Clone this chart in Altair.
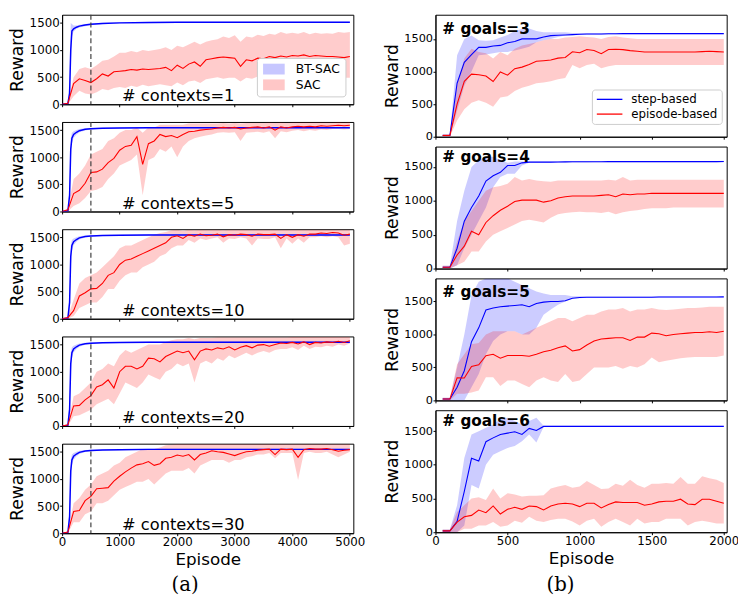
import altair as alt
import pandas as pd

FONT = "DejaVu Sans"
BLUE = "#0000ff"
RED = "#ff0000"

# ------------------------------------------------------------------ (a)
ctx_labels = ["# contexts=1", "# contexts=5", "# contexts=10", "# contexts=20", "# contexts=30"]
sac_ep = list(range(0, 5001, 100))
bt_ep = [0, 100, 130, 150, 170, 200, 250, 300, 400, 500, 700, 1000, 1500, 2000, 3000, 4000, 5000]

bt_mean_1 = [0, 10, 200, 1000, 1350, 1390, 1420, 1440, 1460, 1475, 1490, 1500, 1505, 1510, 1510, 1510, 1510]
bt_lo_1 = [0, 0, 50, 700, 1250, 1340, 1390, 1415, 1440, 1460, 1478, 1490, 1495, 1500, 1500, 1500, 1500]
bt_hi_1 = [0, 20, 500, 1500, 1480, 1450, 1450, 1465, 1480, 1490, 1502, 1510, 1515, 1520, 1520, 1520, 1520]
bt_mean_n = [0, 10, 300, 1150, 1350, 1420, 1460, 1490, 1515, 1525, 1535, 1540, 1545, 1545, 1545, 1545, 1545]
bt_lo_n = [0, 0, 100, 950, 1250, 1360, 1420, 1460, 1495, 1510, 1525, 1530, 1535, 1535, 1535, 1535, 1535]
bt_hi_n = [0, 20, 500, 1350, 1450, 1480, 1500, 1520, 1535, 1540, 1545, 1550, 1555, 1555, 1555, 1555, 1555]

sac_mean_1 = [0, 20, 380, 470, 440, 400, 470, 560, 520, 600,
              610, 620, 640, 630, 650, 640, 650, 660, 680, 620,
              720, 660, 740, 780, 700, 820, 840, 860, 870, 860,
              850, 700, 820, 800, 850, 840, 880, 860, 890, 870,
              900, 890, 910, 880, 900, 890, 880, 880, 870, 860,
              880]
sac_lo_1 = [0, 0, 150, 250, 200, 180, 220, 280, 260, 300,
            320, 300, 340, 320, 360, 330, 350, 370, 350, 330,
            400, 350, 420, 440, 390, 460, 480, 500, 470, 490,
            490, 420, 490, 470, 510, 490, 510, 490, 530, 510,
            540, 510, 530, 520, 530, 510, 520, 510, 500, 490,
            490]
sac_hi_1 = [0, 30, 500, 650, 680, 650, 720, 800, 820, 880,
            950, 950, 980, 960, 1000, 980, 1000, 1020, 1050, 1000,
            1080, 1050, 1100, 1150, 1100, 1150, 1180, 1200, 1250, 1220,
            1270, 1150, 1250, 1230, 1280, 1260, 1300, 1280, 1330, 1300,
            1320, 1300, 1330, 1290, 1320, 1300, 1310, 1300, 1330, 1320,
            1330]

sac_mean_5 = [0, 30, 330, 390, 520, 720, 730, 780, 900, 980,
              1130, 1200, 1220, 1380, 870, 1250, 1300, 1420, 1380, 1400,
              1360, 1420, 1470, 1480, 1500, 1510, 1520, 1540, 1550, 1540,
              1550, 1520, 1540, 1550, 1560, 1540, 1560, 1500, 1560, 1540,
              1560, 1570, 1560, 1570, 1560, 1580, 1570, 1580, 1590, 1580,
              1590]
sac_lo_5 = [0, 0, 100, 150, 250, 380, 400, 450, 600, 700,
            850, 900, 950, 1050, 300, 950, 1000, 1150, 1100, 1200,
            1000, 1200, 1300, 1350, 1380, 1400, 1420, 1450, 1460, 1450,
            1460, 1300, 1450, 1460, 1470, 1450, 1480, 1350, 1480, 1460,
            1490, 1500, 1480, 1500, 1490, 1510, 1500, 1520, 1520, 1510,
            1520]
sac_hi_5 = [0, 60, 600, 700, 850, 1050, 1100, 1150, 1300, 1350,
            1450, 1500, 1500, 1550, 1450, 1550, 1550, 1600, 1600, 1600,
            1600, 1600, 1620, 1620, 1620, 1620, 1620, 1620, 1630, 1620,
            1630, 1620, 1630, 1630, 1630, 1630, 1640, 1630, 1640, 1630,
            1640, 1640, 1640, 1640, 1640, 1640, 1640, 1640, 1650, 1640,
            1650]

sac_mean_10 = [0, 20, 150, 420, 480, 550, 560, 650, 800, 850,
               1000, 1080, 1100, 1150, 1200, 1250, 1300, 1350, 1400, 1500,
               1530, 1480, 1550, 1520, 1560, 1530, 1540, 1560, 1510, 1550,
               1540, 1560, 1550, 1520, 1560, 1550, 1550, 1560, 1480, 1550,
               1500, 1550, 1520, 1560, 1560, 1580, 1570, 1590, 1580, 1540,
               1560]
sac_lo_10 = [0, 0, 50, 200, 250, 300, 300, 400, 550, 550,
             700, 800, 850, 850, 950, 1000, 1050, 1150, 1200, 1300,
             1350, 1350, 1450, 1400, 1480, 1450, 1480, 1500, 1400, 1480,
             1470, 1500, 1480, 1350, 1480, 1470, 1470, 1500, 1300, 1480,
             1380, 1480, 1400, 1500, 1500, 1520, 1500, 1520, 1500, 1350,
             1380]
sac_hi_10 = [0, 40, 350, 650, 750, 800, 850, 950, 1050, 1150,
             1300, 1350, 1350, 1400, 1450, 1500, 1550, 1580, 1600, 1630,
             1640, 1620, 1640, 1630, 1640, 1640, 1640, 1640, 1630, 1640,
             1640, 1640, 1640, 1640, 1640, 1640, 1640, 1640, 1640, 1640,
             1640, 1640, 1640, 1640, 1640, 1640, 1640, 1640, 1640, 1640,
             1640]

sac_mean_20 = [0, 20, 370, 380, 480, 560, 720, 760, 850, 700,
               1000, 1100, 1100, 1050, 1100, 1250, 1240, 1180, 1280, 1330,
               1380, 1350, 1380, 1220, 1380, 1420, 1400, 1440, 1420, 1460,
               1400, 1450, 1480, 1440, 1490, 1500, 1470, 1500, 1530, 1520,
               1540, 1510, 1550, 1500, 1540, 1530, 1550, 1540, 1560, 1540,
               1570]
sac_lo_20 = [0, 0, 180, 200, 250, 300, 400, 450, 500, 400,
             600, 800, 750, 700, 800, 950, 900, 850, 1000, 1050,
             1150, 1100, 1150, 800, 1150, 1200, 1150, 1250, 1200, 1300,
             1250, 1300, 1350, 1300, 1350, 1380, 1350, 1400, 1420, 1420,
             1450, 1400, 1480, 1420, 1460, 1450, 1480, 1460, 1500, 1480,
             1520]
sac_hi_20 = [0, 40, 550, 600, 700, 800, 1000, 1050, 1150, 1100,
             1300, 1400, 1350, 1400, 1450, 1500, 1500, 1500, 1550, 1580,
             1600, 1600, 1620, 1600, 1620, 1620, 1620, 1630, 1630, 1630,
             1630, 1630, 1630, 1630, 1630, 1630, 1630, 1630, 1630, 1630,
             1640, 1640, 1640, 1640, 1640, 1640, 1640, 1640, 1640, 1640,
             1640]

sac_mean_30 = [0, 20, 400, 420, 600, 680, 820, 830, 840, 960,
               1050, 1130, 1200, 1260, 1280, 1320, 1250, 1280, 1380, 1400,
               1440, 1420, 1450, 1350, 1450, 1480, 1520, 1500, 1490, 1460,
               1430, 1470, 1500, 1510, 1530, 1540, 1550, 1450, 1550, 1540,
               1550, 1400, 1540, 1560, 1550, 1550, 1560, 1540, 1510, 1530,
               1540]
sac_lo_30 = [0, 0, 200, 200, 350, 400, 550, 550, 600, 700,
             800, 850, 900, 950, 950, 1000, 900, 1000, 1100, 1150,
             1150, 1150, 1200, 1100, 1250, 1300, 1350, 1350, 1350, 1300,
             1350, 1350, 1400, 1420, 1450, 1450, 1480, 1380, 1480, 1480,
             1480, 980, 1480, 1500, 1480, 1480, 1500, 1450, 1400, 1450,
             1500]
sac_hi_30 = [0, 40, 550, 650, 800, 900, 1050, 1100, 1150, 1250,
             1300, 1400, 1450, 1500, 1550, 1550, 1550, 1580, 1620, 1630,
             1640, 1640, 1640, 1640, 1640, 1640, 1640, 1640, 1640, 1640,
             1640, 1640, 1640, 1640, 1640, 1640, 1640, 1640, 1640, 1640,
             1640, 1640, 1640, 1640, 1640, 1640, 1640, 1640, 1640, 1640,
             1640]

bt_mean = [bt_mean_1, bt_mean_n, bt_mean_n, bt_mean_n, bt_mean_n]
bt_lo = [bt_lo_1, bt_lo_n, bt_lo_n, bt_lo_n, bt_lo_n]
bt_hi = [bt_hi_1, bt_hi_n, bt_hi_n, bt_hi_n, bt_hi_n]
sac_mean = [sac_mean_1, sac_mean_5, sac_mean_10, sac_mean_20, sac_mean_30]
sac_lo = [sac_lo_1, sac_lo_5, sac_lo_10, sac_lo_20, sac_lo_30]
sac_hi = [sac_hi_1, sac_hi_5, sac_hi_10, sac_hi_20, sac_hi_30]

# ------------------------------------------------------------------ (b)
goal_labels = ["# goals=3", "# goals=4", "# goals=5", "# goals=6"]
goal_ytop = [1870, 1800, 1850, 1810]
g_ep = list(range(50, 2001, 50))

step_mean = [
    [20, 20, 820, 1140, 1260, 1370, 1370, 1390, 1400, 1440,
     1460, 1500, 1500, 1500, 1530, 1550, 1555, 1560, 1565, 1570,
     1575, 1575, 1575, 1578, 1578, 1580, 1580, 1580, 1580, 1580,
     1580, 1580, 1580, 1580, 1580, 1580, 1580, 1580, 1580, 1580],
    [20, 20, 300, 700, 900, 1070, 1290, 1370, 1420, 1520,
     1520, 1560, 1570, 1570, 1570, 1570, 1572, 1574, 1575, 1576,
     1576, 1577, 1577, 1578, 1578, 1578, 1578, 1578, 1578, 1578,
     1578, 1578, 1578, 1578, 1578, 1578, 1578, 1578, 1578, 1580],
    [20, 20, 200, 450, 890, 1100, 1370, 1400, 1420, 1430,
     1440, 1450, 1420, 1470, 1490, 1500, 1500, 1510, 1550, 1560,
     1565, 1565, 1565, 1565, 1565, 1565, 1565, 1565, 1565, 1565,
     1568, 1568, 1568, 1568, 1568, 1568, 1568, 1568, 1568, 1570],
    [20, 20, 160, 605, 1097, 1057, 1343, 1400, 1450, 1470,
     1490, 1450, 1540, 1510, 1570, 1570, 1570, 1570, 1570, 1570,
     1570, 1570, 1570, 1570, 1570, 1570, 1570, 1570, 1570, 1570,
     1570, 1570, 1570, 1570, 1570, 1570, 1570, 1570, 1570, 1570],
]
step_lo = [
    [0, 0, 400, 780, 1000, 1250, 1260, 1280, 1300, 1300,
     1320, 1350, 1380, 1450, 1480, 1500, 1530, 1550, 1555, 1560,
     1565, 1565, 1565, 1568, 1568, 1570, 1570, 1570, 1570, 1570,
     1570, 1570, 1570, 1570, 1570, 1570, 1570, 1570, 1570, 1570],
    [0, 0, 50, 300, 500, 700, 900, 1200, 1350, 1400,
     1400, 1520, 1560, 1560, 1560, 1560, 1562, 1564, 1565, 1566,
     1566, 1567, 1567, 1568, 1568, 1568, 1568, 1568, 1568, 1568,
     1568, 1568, 1568, 1568, 1568, 1568, 1568, 1568, 1568, 1570],
    [0, 0, 0, 0, 200, 400, 700, 900, 1000, 1050,
     1050, 1000, 1000, 1100, 1300, 1380, 1450, 1500, 1540, 1550,
     1555, 1555, 1555, 1555, 1555, 1555, 1555, 1555, 1555, 1555,
     1558, 1558, 1558, 1558, 1558, 1558, 1558, 1558, 1558, 1560],
    [0, 0, 0, 100, 700, 650, 1000, 1150, 1200, 1250,
     1280, 1350, 1450, 1330, 1560, 1560, 1560, 1560, 1560, 1560,
     1560, 1560, 1560, 1560, 1560, 1560, 1560, 1560, 1560, 1560,
     1560, 1560, 1560, 1560, 1560, 1560, 1560, 1560, 1560, 1560],
]
step_hi = [
    [40, 40, 1250, 1500, 1550, 1480, 1470, 1480, 1520, 1560,
     1620, 1650, 1660, 1620, 1600, 1600, 1600, 1600, 1590, 1585,
     1585, 1585, 1585, 1588, 1588, 1590, 1590, 1590, 1590, 1590,
     1590, 1590, 1590, 1590, 1590, 1590, 1590, 1590, 1590, 1590],
    [40, 40, 700, 1150, 1500, 1600, 1650, 1650, 1600, 1560,
     1580, 1580, 1580, 1580, 1580, 1580, 1582, 1584, 1585, 1586,
     1586, 1587, 1587, 1588, 1588, 1588, 1588, 1588, 1588, 1588,
     1588, 1588, 1588, 1588, 1588, 1588, 1588, 1588, 1588, 1590],
    [40, 40, 500, 1000, 1600, 1800, 1850, 1850, 1850, 1850,
     1800, 1750, 1700, 1650, 1620, 1600, 1600, 1600, 1580, 1580,
     1575, 1575, 1575, 1575, 1575, 1575, 1575, 1575, 1575, 1575,
     1578, 1578, 1578, 1578, 1578, 1578, 1578, 1578, 1578, 1580],
    [40, 40, 400, 1100, 1450, 1500, 1550, 1600, 1680, 1700,
     1650, 1600, 1650, 1700, 1580, 1580, 1580, 1580, 1580, 1580,
     1580, 1580, 1580, 1580, 1580, 1580, 1580, 1580, 1580, 1580,
     1580, 1580, 1580, 1580, 1580, 1580, 1580, 1580, 1580, 1580],
]
epi_mean = [
    [20, 20, 500, 850, 960, 950, 930, 846, 993, 944,
     1043, 1067, 1106, 1156, 1165, 1175, 1205, 1215, 1303, 1288,
     1337, 1323, 1274, 1337, 1340, 1335, 1320, 1310, 1300, 1300,
     1300, 1300, 1300, 1300, 1300, 1300, 1305, 1310, 1305, 1300],
    [20, 20, 200, 330, 550, 500, 680, 780, 860, 920,
     990, 1010, 1010, 1010, 980, 1000, 1040, 1060, 1070, 1070,
     1070, 1070, 1080, 1090, 1060, 1100, 1090, 1100, 1100, 1110,
     1110, 1110, 1110, 1110, 1110, 1110, 1110, 1110, 1110, 1110],
    [20, 20, 344, 340, 516, 540, 679, 700, 640, 680,
     680, 680, 670, 700, 738, 760, 800, 826, 750, 770,
     840, 900, 930, 940, 950, 950, 910, 960, 960, 1020,
     1010, 980, 1000, 1010, 1020, 1030, 1030, 1040, 1030, 1050],
    [20, 20, 150, 230, 250, 330, 290, 390, 270, 340,
     370, 340, 390, 380, 330, 390, 420, 430, 420, 380,
     430, 430, 360, 410, 450, 440, 440, 440, 400, 420,
     450, 460, 460, 490, 420, 410, 490, 490, 460, 430],
]
epi_lo = [
    [0, 0, 250, 420, 520, 560, 520, 460, 600, 620,
     700, 750, 780, 820, 830, 850, 880, 900, 1100, 1050,
     1100, 1120, 1050, 1080, 1100, 1100, 1100, 1100, 1100, 1100,
     1100, 1100, 1100, 1100, 1100, 1100, 1100, 1100, 1100, 1100],
    [0, 0, 50, 100, 250, 250, 400, 500, 550, 600,
     650, 700, 720, 700, 680, 750, 800, 820, 830, 840,
     830, 830, 820, 840, 800, 830, 850, 860, 880, 890,
     890, 890, 900, 900, 900, 900, 900, 900, 900, 900],
    [0, 0, 100, 100, 120, 150, 350, 350, 220, 300,
     300, 250, 200, 300, 350, 300, 280, 400, 280, 300,
     400, 500, 500, 500, 520, 480, 520, 500, 550, 650,
     580, 600, 620, 640, 650, 660, 660, 660, 660, 680],
    [0, 0, 0, 50, 50, 100, 100, 150, 80, 100,
     170, 140, 230, 170, 150, 180, 200, 200, 160, 100,
     170, 200, 80, 150, 200, 150, 100, 200, 130, 150,
     150, 200, 200, 200, 100, 150, 170, 150, 130, 130],
]
epi_hi = [
    [40, 40, 800, 1200, 1350, 1300, 1280, 1200, 1300, 1250,
     1350, 1400, 1420, 1450, 1480, 1500, 1500, 1520, 1530, 1540,
     1530, 1520, 1500, 1530, 1540, 1520, 1510, 1500, 1500, 1500,
     1500, 1500, 1500, 1500, 1500, 1500, 1500, 1500, 1500, 1500],
    [40, 40, 400, 700, 850, 1000, 1150, 1200, 1220, 1250,
     1350, 1300, 1320, 1300, 1290, 1280, 1300, 1300, 1300, 1300,
     1300, 1300, 1300, 1310, 1300, 1350, 1300, 1310, 1310, 1310,
     1310, 1310, 1310, 1310, 1310, 1310, 1310, 1310, 1310, 1310],
    [40, 40, 550, 700, 850, 870, 1000, 1050, 1050, 1050,
     1050, 1000, 1050, 1100, 1150, 1200, 1250, 1250, 1200, 1250,
     1300, 1300, 1350, 1380, 1380, 1400, 1350, 1380, 1380, 1400,
     1380, 1370, 1380, 1390, 1400, 1400, 1410, 1420, 1420, 1420],
    [40, 40, 300, 400, 500, 520, 480, 650, 500, 580,
     560, 530, 540, 540, 550, 650, 680, 700, 660, 680,
     760, 700, 640, 650, 720, 690, 780, 700, 660, 720,
     720, 730, 720, 820, 720, 720, 830, 800, 780, 730],
]

# ------------------------------------------------------------------ build
LW, LH = 296, 91
RW, RH = 296, 124


def left_panel(i):
    rows = []
    for e, m, l, h in zip(bt_ep, bt_mean[i], bt_lo[i], bt_hi[i]):
        rows.append(dict(ep=e, series="BT-SAC", mean=m, lo=l, hi=h))
    for e, m, l, h in zip(sac_ep, sac_mean[i], sac_lo[i], sac_hi[i]):
        rows.append(dict(ep=e, series="SAC", mean=m, lo=l, hi=h))
    df = pd.DataFrame(rows)
    last = i == 4
    xscale = alt.Scale(domain=[0, 5060], nice=False, zero=False)
    yscale = alt.Scale(domain=[0, 1650], nice=False)
    xaxis = alt.Axis(values=[0, 1000, 2000, 3000, 4000, 5000], labels=last,
                     title="Episode" if last else None, format="d", labelFlush=False)
    yaxis = alt.Axis(values=[0, 500, 1000, 1500], title="Reward", format="d",
                     titlePadding=3, titleFontSize=17.5)
    x = alt.X("ep:Q", scale=xscale, axis=xaxis)
    if i == 0:
        leg = alt.Legend(orient="none", legendX=198, legendY=44, title=None,
                         symbolType="M-1,-1.1H3.4V1.1H-1Z", symbolSize=100,
                         symbolOpacity=0.22, symbolStrokeWidth=0,
                         labelFontSize=12.5, labelFont=FONT, labelColor="black",
                         padding=5, rowPadding=3, strokeColor="#cccccc",
                         fillColor="white", cornerRadius=3, labelOffset=22)
    else:
        leg = None
    band = alt.Chart(df).mark_area(opacity=0.2, clip=True).encode(
        x=x,
        y=alt.Y("lo:Q", scale=yscale, axis=yaxis),
        y2="hi:Q",
        color=alt.Color("series:N",
                        scale=alt.Scale(domain=["BT-SAC", "SAC"], range=[BLUE, RED]),
                        legend=leg),
    )
    bline = alt.Chart(df).transform_filter(alt.datum.series == "BT-SAC").mark_line(
        color=BLUE, strokeWidth=1.5, clip=True).encode(x=x, y=alt.Y("mean:Q", scale=yscale, axis=yaxis))
    rline = alt.Chart(df).transform_filter(alt.datum.series == "SAC").mark_line(
        color=RED, strokeWidth=1.1, clip=True).encode(x=x, y=alt.Y("mean:Q", scale=yscale, axis=yaxis))
    vline = alt.Chart(pd.DataFrame({"ep": [500]})).mark_rule(
        color="#404040", strokeDash=[5, 3], strokeWidth=1.2).encode(x=x)
    label = alt.Chart(pd.DataFrame({"t": [ctx_labels[i]]})).mark_text(
        align="left", baseline="alphabetic", fontSize=16.5, font=FONT, color="black"
    ).encode(x=alt.value(61), y=alt.value(LH - 3), text="t:N")
    layers = [band, bline, rline, vline, label]
    if i == 0:
        # transparent spacer: keeps column (a) 5px lower than column (b)
        spacer = alt.Chart(pd.DataFrame({"t": [0]})).mark_rule(strokeOpacity=0).encode(
            x=alt.value(0), y=alt.value(-15), y2=alt.value(-14))
        layers.append(spacer)
    if last:
        cap = alt.Chart(pd.DataFrame({"t": ["(a)"]})).mark_text(
            align="center", baseline="middle", fontSize=20, font="DejaVu Serif", color="black"
        ).encode(x=alt.value(125), y=alt.value(LH + 53), text="t:N")
        layers.append(cap)
    return alt.layer(*layers).properties(width=LW, height=LH)


def right_panel(j):
    rows = []
    for k, e in enumerate(g_ep):
        rows.append(dict(ep=e, series="step-based", mean=step_mean[j][k], lo=step_lo[j][k], hi=step_hi[j][k]))
    for k, e in enumerate(g_ep):
        rows.append(dict(ep=e, series="episode-based", mean=epi_mean[j][k], lo=epi_lo[j][k], hi=epi_hi[j][k]))
    df = pd.DataFrame(rows)
    last = j == 3
    xscale = alt.Scale(domain=[0, 2020], nice=False, zero=False)
    yscale = alt.Scale(domain=[0, goal_ytop[j]], nice=False)
    xaxis = alt.Axis(values=[0, 500, 1000, 1500, 2000], labels=last,
                     title="Episode" if last else None, format="d", labelFlush=False)
    yaxis = alt.Axis(values=[0, 500, 1000, 1500], title="Reward", format="d",
                     titlePadding=2, labelFontSize=11.5, titleFontSize=17.5)
    x = alt.X("ep:Q", scale=xscale, axis=xaxis)
    if j == 0:
        leg = alt.Legend(orient="none", legendX=159, legendY=76, title=None,
                         symbolType="M-1,0H4.2", symbolSize=100, symbolStrokeWidth=1.3,
                         labelFontSize=12, labelFont=FONT, labelColor="black",
                         padding=4, rowPadding=3, strokeColor="#cccccc",
                         fillColor="white", cornerRadius=3, labelOffset=24)
    else:
        leg = None
    bband = alt.Chart(df).transform_filter(alt.datum.series == "step-based").mark_area(
        color=BLUE, opacity=0.2, clip=True).encode(
        x=x, y=alt.Y("lo:Q", scale=yscale, axis=yaxis), y2="hi:Q")
    rband = alt.Chart(df).transform_filter(alt.datum.series == "episode-based").mark_area(
        color=RED, opacity=0.2, clip=True).encode(
        x=x, y=alt.Y("lo:Q", scale=yscale, axis=yaxis), y2="hi:Q")
    lines = alt.Chart(df).mark_line(strokeWidth=1.1, clip=True).encode(
        x=x, y=alt.Y("mean:Q", scale=yscale, axis=yaxis),
        color=alt.Color("series:N",
                        scale=alt.Scale(domain=["step-based", "episode-based"], range=[BLUE, RED]),
                        legend=leg),
    )
    label = alt.Chart(pd.DataFrame({"t": [goal_labels[j]], "ty": [1570]})).mark_text(
        align="left", baseline="alphabetic", fontSize=15.5, fontWeight="bold", font=FONT, color="black"
    ).encode(x=alt.value(7), y=alt.Y("ty:Q", scale=yscale, axis=yaxis), text="t:N")
    layers = [bband, rband, lines, label]
    if last:
        cap = alt.Chart(pd.DataFrame({"t": ["(b)"]})).mark_text(
            align="center", baseline="middle", fontSize=20, font="DejaVu Serif", color="black"
        ).encode(x=alt.value(127), y=alt.value(RH + 54), text="t:N")
        layers.append(cap)
    return alt.layer(*layers).properties(width=RW, height=RH)


left = alt.vconcat(*[left_panel(i) for i in range(5)], spacing=9)
right = alt.vconcat(*[right_panel(j) for j in range(4)], spacing=3)

chart = alt.hconcat(left, right, spacing=17.5).resolve_scale(color="independent").properties(
    padding={"left": -1, "top": -14, "right": -2, "bottom": -3},
    background="white",
).configure_view(
    stroke="black", strokeWidth=1
).configure_axis(
    domainColor="black", domainWidth=1, tickColor="black", tickWidth=1, tickSize=2.5,
    labelColor="black", labelFontSize=12, labelFont=FONT, labelPadding=0.5,
    titleFont=FONT, titleFontSize=17.5, titleFontWeight="normal", titleColor="black",
    grid=False,
).configure_axisX(titlePadding=5, titleFontSize=17)

chart.save("out.html", embed_options={"renderer": "svg", "actions": False})
